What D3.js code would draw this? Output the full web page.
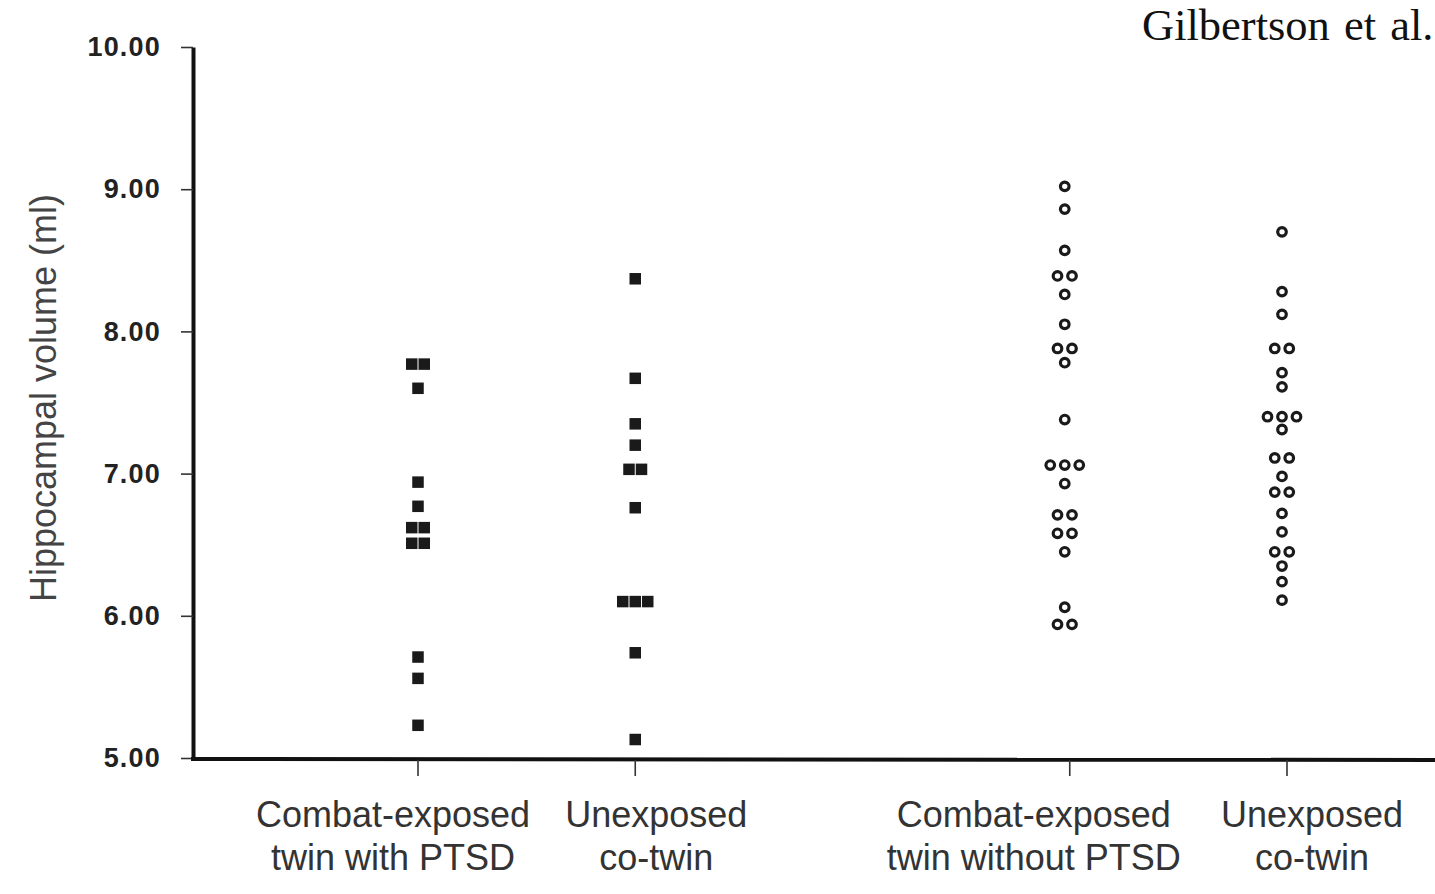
<!DOCTYPE html>
<html>
<head>
<meta charset="utf-8">
<script src="https://cdn.jsdelivr.net/npm/d3@7"></script>
<style>
  html, body { margin: 0; padding: 0; background: #fff; }
  svg { display: block; }
</style>
</head>
<body>
<svg id="chart" width="1435" height="894"></svg>
<script>
// data (hippocampal volume, ml)
var categories = [
  ["Combat-exposed", "twin with PTSD"],
  ["Unexposed", "co-twin"],
  ["Combat-exposed", "twin without PTSD"],
  ["Unexposed", "co-twin"]
];
var ptsdTwin = [7.77, 7.77, 7.60, 6.94, 6.77, 6.62, 6.62, 6.51, 6.51, 5.71, 5.56, 5.23];
var ptsdCoTwin = [8.37, 7.67, 7.35, 7.20, 7.03, 7.03, 6.76, 6.10, 6.10, 6.10, 5.74, 5.13];
var noPtsdTwin = [9.02, 8.86, 8.57, 8.39, 8.39, 8.26, 8.05, 7.88, 7.88, 7.78, 7.38,
  7.06, 7.06, 7.06, 6.93, 6.71, 6.71, 6.58, 6.58, 6.45, 6.06, 5.94, 5.94];
var noPtsdCoTwin = [8.70, 8.28, 8.12, 7.88, 7.88, 7.71, 7.61, 7.40, 7.40, 7.40, 7.31,
  7.11, 7.11, 6.98, 6.87, 6.87, 6.72, 6.59, 6.45, 6.45, 6.35, 6.24, 6.11];
var yTicks = [5, 6, 7, 8, 9, 10];

var series = [
  {values: ptsdTwin, slot: 1, shape: "square"},
  {values: ptsdCoTwin, slot: 2, shape: "square"},
  {values: noPtsdTwin, slot: 4, shape: "circle"},
  {values: noPtsdCoTwin, slot: 5, shape: "circle"}
];

var svg = d3.select("#chart");

var x = d3.scaleLinear().domain([1, 5]).range([418, 1287]);
var y = d3.scaleLinear().domain([5, 10]).range([758, 47]);

// title (runs off the right edge like the source)
svg.append("text")
  .attr("x", 1142).attr("y", 40)
  .attr("font-family", "Liberation Serif, serif")
  .attr("font-size", 44.5)
  .attr("word-spacing", 3)
  .attr("fill", "#111")
  .text("Gilbertson et al.");

// y axis
var yAxis = svg.append("g")
  .attr("transform", "translate(193,0)")
  .call(d3.axisLeft(y).tickValues(yTicks).tickFormat(d3.format(".2f")).tickSize(12).tickSizeOuter(0).tickPadding(20));
yAxis.select(".domain").attr("stroke", "#111").attr("stroke-width", 4);
yAxis.selectAll(".tick line").attr("stroke", "#333").attr("stroke-width", 1.6);
yAxis.selectAll(".tick text")
  .attr("font-family", "Liberation Sans, Arial, sans-serif")
  .attr("font-weight", "bold")
  .attr("font-size", 27)
  .attr("letter-spacing", 1.2)
  .attr("fill", "#222");

// y axis title
svg.append("text")
  .attr("transform", "translate(56,398) rotate(-90)")
  .attr("text-anchor", "middle")
  .attr("font-family", "Liberation Sans, Arial, sans-serif")
  .attr("font-size", 36)
  .attr("fill", "#444")
  .text("Hippocampal volume (ml)");

// x axis line and ticks
svg.append("line")
  .attr("x1", 191).attr("x2", 1435)
  .attr("y1", 759).attr("y2", 760)
  .attr("stroke", "#111").attr("stroke-width", 4);

svg.append("g").selectAll("line")
  .data(series)
  .join("line")
  .attr("x1", function(d){ return x(d.slot); })
  .attr("x2", function(d){ return x(d.slot); })
  .attr("y1", 760).attr("y2", 776)
  .attr("stroke", "#333").attr("stroke-width", 1.6);

// category labels, pushed apart a little like the original
var labelShift = [-25, 21, -36, 25];
var labels = svg.append("g")
  .attr("font-family", "Liberation Sans, Arial, sans-serif")
  .attr("font-size", 36)
  .attr("fill", "#333")
  .attr("text-anchor", "middle");
series.forEach(function(s, i){
  var t = labels.append("text");
  categories[i].forEach(function(line, j){
    t.append("tspan")
      .attr("x", x(s.slot) + labelShift[i])
      .attr("y", 827 + j * 43)
      .text(line);
  });
});

// dot plot: equal values sit side by side
function layout(values, gap){
  var counts = d3.rollup(values, function(v){ return v.length; }, function(v){ return v; });
  var seen = new Map();
  return values.map(function(v){
    var n = counts.get(v), k = seen.get(v) || 0;
    seen.set(v, k + 1);
    return {value: v, dx: (k - (n - 1) / 2) * gap};
  });
}

series.forEach(function(s){
  var g = svg.append("g");
  if (s.shape === "square") {
    g.selectAll("rect")
      .data(layout(s.values, 12.5))
      .join("rect")
      .attr("x", function(d){ return x(s.slot) + d.dx - 5.75; })
      .attr("y", function(d){ return y(d.value) - 5.75; })
      .attr("width", 11.5).attr("height", 11.5)
      .attr("fill", "#1a1a1a");
  } else {
    // the open circles sit a few px left of their tick in the source
    g.selectAll("circle")
      .data(layout(s.values, 14.5))
      .join("circle")
      .attr("cx", function(d){ return x(s.slot) - 5 + d.dx; })
      .attr("cy", function(d){ return y(d.value); })
      .attr("r", 4.3)
      .attr("fill", "#fff")
      .attr("stroke", "#1a1a1a")
      .attr("stroke-width", 3.2);
  }
});
</script>
</body>
</html>
